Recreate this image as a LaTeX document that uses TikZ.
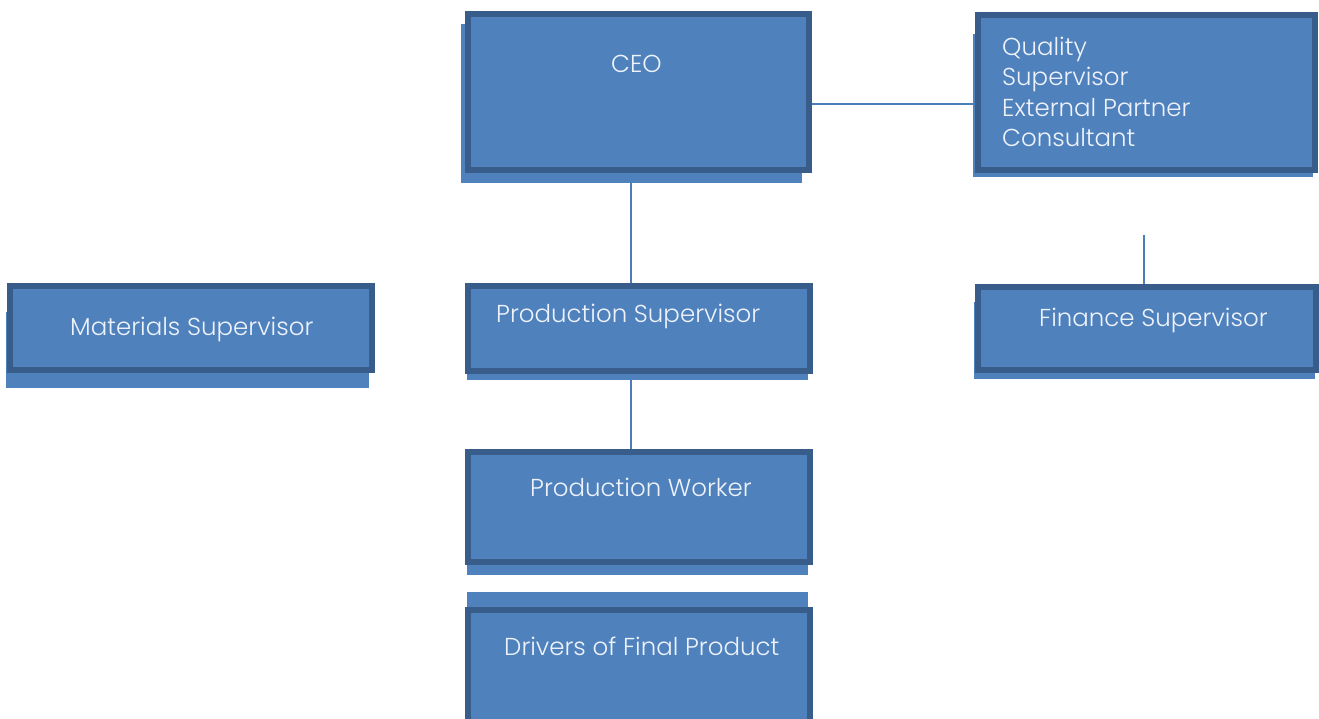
\documentclass[tikz,border=0pt]{standalone}
\usepackage{fontspec}
\IfFontExistsTF{Poppins Light}{\setmainfont{Poppins Light}}{\setmainfont{Poppins}}
\definecolor{boxfill}{HTML}{4F81BD}
\definecolor{boxline}{HTML}{385D8A}
\definecolor{txt}{HTML}{EEF2FA}
\definecolor{conn}{HTML}{4A7EBB}
\begin{document}
\begin{tikzpicture}[x=1pt,y=-1pt,
  shadowbox/.style={fill=boxfill,draw=none},
  orgbox/.style={fill=boxfill,draw=boxline,line width=6pt,inner sep=0pt,outer sep=3pt},
  lbl/.style={text=txt,font=\fontsize{24.5}{30}\selectfont,anchor=base west,inner sep=0pt},
  conn/.style={draw=conn,line width=2pt}]
\useasboundingbox (0,0) rectangle (1319,718);
% shadows
\fill[shadowbox] (461,24) rectangle (802,183);
\fill[shadowbox] (973,34) rectangle (1313,177);
\fill[shadowbox] (6,312) rectangle (369,388);
\fill[shadowbox] (467,300) rectangle (808,380);
\fill[shadowbox] (467,470) rectangle (808,575);
\fill[shadowbox] (467,592) rectangle (808,718);
\fill[shadowbox] (974,302) rectangle (1315,379);
% boxes
\node[orgbox,minimum width=341pt,minimum height=156pt] (ceo) at (638.5,92) {};
\node[orgbox,minimum width=337pt,minimum height=155pt] (qual) at (1146.5,92.5) {};
\node[orgbox,minimum width=362pt,minimum height=84pt] (mat) at (191,328) {};
\node[orgbox,minimum width=342pt,minimum height=85pt] (psup) at (639,328.5) {};
\node[orgbox,minimum width=342pt,minimum height=110pt] (work) at (639,507) {};
\node[orgbox,minimum width=342pt,minimum height=147pt] (drv) at (639,683.5) {};
\node[orgbox,minimum width=338pt,minimum height=83pt] (fin) at (1147,328.5) {};
% labels
\node[lbl] (tceo) at (611,72) {CEO};
\node[lbl] (tq1) at (1002,55) {Quality};
\node[lbl] (tq2) at (1002,85) {Supervisor};
\node[lbl] (tq3) at (1002,116) {External Partner};
\node[lbl] (tq4) at (1002,146) {Consultant};
\node[lbl] (tmat) at (70,335) {Materials Supervisor};
\node[lbl] (tpsup) at (496,322) {Production Supervisor};
\node[lbl] (tfin) at (1039,326) {Finance Supervisor};
\node[lbl] (twork) at (530,496) {Production Worker};
\node[lbl] (tdrv) at (504,655) {Drivers of Final Product};
% connectors
\coordinate (ceoR) at (812,104);
\coordinate (qualL) at (975,104);
\coordinate (ceoB) at (631,183);
\coordinate (psupT) at (631,283);
\coordinate (psupB) at (631,380);
\coordinate (workT) at (631,449);
\coordinate (finfree) at (1144,235);
\coordinate (finT) at (1144,284);
\draw[conn] (ceoR) -- (qualL);
\draw[conn] (ceoB) -- (psupT);
\draw[conn] (psupB) -- (workT);
\draw[conn] (finfree) -- (finT);
\end{tikzpicture}
\end{document}
